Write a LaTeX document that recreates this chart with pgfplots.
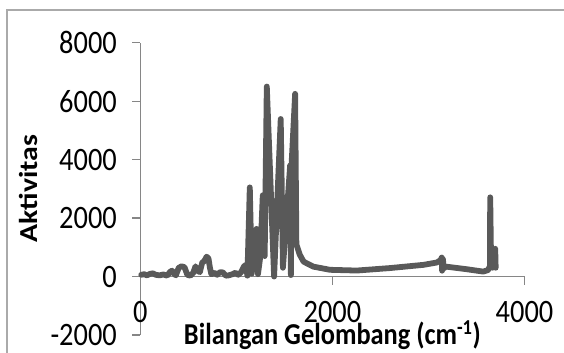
\documentclass[border=0pt]{standalone}
\usepackage{pgfplots}
\pgfplotsset{compat=1.18}
\usepackage{fontspec}
\setmainfont{Carlito}
\usepackage{graphicx}
\definecolor{axisgray}{RGB}{134,134,134}
\definecolor{linegray}{RGB}{89,89,89}
\definecolor{framegray}{RGB}{170,170,170}
\newcommand{\vs}[1]{\scalebox{1}[1.15]{#1}}
\begin{document}
\begin{tikzpicture}
\useasboundingbox (-140.3bp,-18bp) rectangle (423.7bp,335bp);
\draw[color=framegray, line width=1.2bp] (-133.3bp,-25bp) -- (-133.3bp,325bp) -- (430bp,325bp);
\begin{axis}[
  at={(0,0)}, anchor=south west,
  scale only axis, width=384.2bp, height=292.3bp,
  xmin=0, xmax=4000, ymin=-2000, ymax=8000,
  axis x line=middle, axis y line=left,
  axis line style={-, color=axisgray, line width=1.3bp},
  xtick={0,2000,4000}, ytick={-2000,0,2000,4000,6000,8000},
  minor tick num=0,
  tick align=outside, major tick length=8bp,
  tick style={color=axisgray, line width=1.3bp},
  hide obscured x ticks=false, hide obscured y ticks=false,
  tick label style={font=\fontsize{28.5}{32}\selectfont, text=black},
  /pgf/number format/assume math mode=true,
  /pgf/number format/1000 sep={},
  xticklabel={\vs{\pgfmathprintnumber{\tick}}},
  yticklabel={\vs{\pgfmathprintnumber{\tick}}},
  xticklabel style={anchor=center, yshift=-27bp},
  yticklabel style={anchor=east, xshift=-12bp},
  xlabel={\vs{\bfseries Bilangan Gelombang (cm\textsuperscript{-1})}},
  xlabel style={at={(axis description cs:0.5,0.0)}, anchor=center, font=\fontsize{26.5}{30}\selectfont},
  ylabel={\scalebox{1.15}[1]{\bfseries Aktivitas}},
  ylabel style={at={(axis description cs:-0.292,0.501)}, anchor=center, rotate=0, font=\fontsize{26}{30}\selectfont},
  clip=false,
]
% IR spectrum, activity against wavenumber
\addplot[color=linegray, line width=5.8bp, line join=round, line cap=round] coordinates {
(10,60) (40,80) (70,40) (100,90) (130,110) (160,60) (200,40) (240,70) (280,30)
(310,160) (330,200) (350,100) (370,40) (400,300) (430,350) (460,320) (490,60)
(520,30) (550,120) (575,350) (595,200) (620,150) (645,480) (665,520) (690,680)
(710,620) (725,300) (740,80) (770,130) (800,60) (830,150) (860,140) (890,30)
(920,40) (960,80) (990,130) (1020,60) (1050,150) (1080,350) (1100,400) (1115,30)
(1140,3050) (1160,100) (1185,1050) (1210,1630) (1225,80) (1250,700) (1275,2780)
(1295,700) (1317,6500) (1393,0) (1462,5390) (1485,300) (1560,3800) (1568,50)
(1576,3900) (1612,6250) (1625,1100) (1660,750) (1700,510) (1800,340) (1976,230)
(2254,205) (2600,290) (2948,400) (3087,480) (3130,570) (3138,650) (3142,200)
(3150,600) (3160,280) (3180,340) (3400,250) (3570,170) (3620,220) (3640,350)
(3643,2710) (3650,1000) (3660,300) (3690,330) (3695,950) (3700,300)
};
\end{axis}
\end{tikzpicture}
\end{document}
